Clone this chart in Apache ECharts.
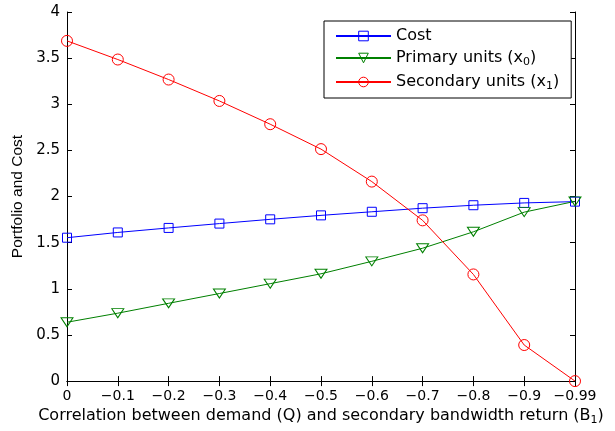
<!DOCTYPE html>
<html>
<head>
<meta charset="utf-8">
<script src="https://cdn.jsdelivr.net/npm/echarts@6/dist/echarts.min.js"></script>
<style>html,body{margin:0;padding:0;background:#fff}#c{width:615px;height:431px}</style>
</head>
<body>
<div id="c"></div>
<script>
const categories = ['0', '\u22120.1', '\u22120.2', '\u22120.3', '\u22120.4', '\u22120.5', '\u22120.6', '\u22120.7', '\u22120.8', '\u22120.9', '\u22120.99'];
const costValues = [1.554, 1.611, 1.660, 1.707, 1.753, 1.796, 1.835, 1.874, 1.906, 1.931, 1.945];
const primaryValues = [0.638, 0.736, 0.843, 0.949, 1.056, 1.163, 1.298, 1.440, 1.618, 1.831, 1.948];
const secondaryValues = [3.687, 3.485, 3.268, 3.036, 2.784, 2.514, 2.162, 1.742, 1.156, 0.391, 0.0];
const yTicks = { min: 0, max: 4, interval: 0.5 };

const fontA = 'Liberation Sans, Arial, Helvetica, sans-serif';
const fontD = 'DejaVu Sans, sans-serif';
const chart = echarts.init(document.getElementById('c'), null, { renderer: 'canvas' });
const axisLine = { show: true, lineStyle: { color: '#000', width: 1 } };
const tick = { show: true, inside: true, length: 5, lineStyle: { color: '#000' } };
function richSub(font, size) {
  return { sub: { fontSize: size, verticalAlign: 'bottom', padding: [9, 0, 0, 0], fontFamily: font, color: '#000' } };
}

chart.setOption({
  animation: false,
  backgroundColor: '#fff',
  grid: { left: 67, right: 40, top: 12, bottom: 43 },
  legend: {
    orient: 'vertical', left: 324, top: 21,
    padding: [7, 12, 6, 11], itemGap: 6, itemWidth: 55, itemHeight: 12,
    borderColor: '#000', borderWidth: 1, backgroundColor: '#fff',
    itemStyle: { borderWidth: 1 },
    textStyle: { fontFamily: fontD, fontSize: 16, color: '#000', rich: richSub(fontD, 11) },
    formatter: function (n) {
      if (n === 'Primary') return 'Primary units (x{sub|0})';
      if (n === 'Secondary') return 'Secondary units (x{sub|1})';
      return n;
    },
    data: ['Cost', 'Primary', 'Secondary']
  },
  xAxis: [{
    type: 'category', data: categories, boundaryGap: false,
    axisLine: axisLine, axisTick: Object.assign({ alignWithLabel: true }, tick),
    axisLabel: { fontFamily: fontD, fontSize: 14, color: '#000', margin: 8, interval: 0 },
    splitLine: { show: false },
    name: 'Correlation between demand (Q) and secondary bandwidth return (B{sub|1})',
    nameLocation: 'middle', nameGap: 24,
    nameTextStyle: { fontFamily: fontD, fontSize: 16, color: '#000', rich: richSub(fontD, 11) }
  }, {
    type: 'category', data: categories, boundaryGap: false, position: 'top',
    axisLine: axisLine, axisTick: Object.assign({ interval: 0 }, tick), axisLabel: { show: false }, splitLine: { show: false }
  }],
  yAxis: [{
    type: 'value', min: yTicks.min, max: yTicks.max, interval: yTicks.interval,
    axisLine: axisLine, axisTick: tick,
    axisLabel: { fontFamily: fontD, fontSize: 15, color: '#000', margin: 7 },
    splitLine: { show: false },
    name: 'Portfolio and Cost', nameLocation: 'middle', nameGap: 41, nameRotate: 90,
    nameTextStyle: { fontFamily: fontA, fontSize: 15.5, color: '#000' }
  }, {
    type: 'value', min: yTicks.min, max: yTicks.max, interval: yTicks.interval, position: 'right',
    axisLine: axisLine, axisTick: tick, axisLabel: { show: false }, splitLine: { show: false }
  }],
  series: [{
    name: 'Cost', type: 'line', data: costValues,
    symbol: 'rect', symbolSize: 9, showAllSymbol: true,
    lineStyle: { color: '#0000ff', width: 1 },
    itemStyle: { color: 'rgba(255,255,255,0)', borderColor: '#0000ff', borderWidth: 1 }
  }, {
    name: 'Primary', type: 'line', data: primaryValues,
    symbol: 'triangle', symbolRotate: 180, symbolSize: [12, 9], showAllSymbol: true,
    lineStyle: { color: '#008000', width: 1 },
    itemStyle: { color: 'rgba(255,255,255,0)', borderColor: '#008000', borderWidth: 1 }
  }, {
    name: 'Secondary', type: 'line', data: secondaryValues,
    symbol: 'circle', symbolSize: 11, showAllSymbol: true,
    lineStyle: { color: '#ff0000', width: 1 },
    itemStyle: { color: 'rgba(255,255,255,0)', borderColor: '#ff0000', borderWidth: 1 }
  }]
});
</script>
</body>
</html>
